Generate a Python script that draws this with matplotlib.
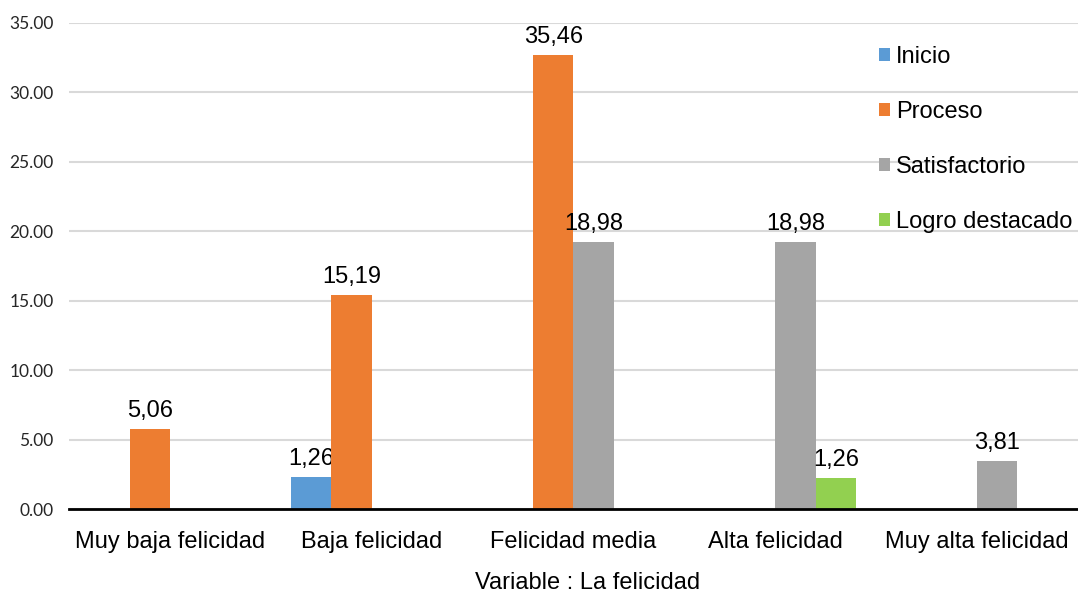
import numpy as np
import matplotlib
matplotlib.use("Agg")
import matplotlib.pyplot as plt

categories = ["Muy baja felicidad", "Baja felicidad", "Felicidad media",
              "Alta felicidad", "Muy alta felicidad"]
series = ["Inicio", "Proceso", "Satisfactorio", "Logro destacado"]

# bar heights as drawn in the picture (labels differ from heights)
inicio = [0, 2.3, 0, 0, 0]
proceso = [5.75, 15.4, 32.7, 0, 0]
satisfactorio = [0, 0, 19.2, 19.2, 3.45]
logro = [0, 0, 0, 2.25, 0]

inicio_lbl = ["", "1,26", "", "", ""]
proceso_lbl = ["5,06", "15,19", "35,46", "", ""]
satisfactorio_lbl = ["", "", "18,98", "18,98", "3,81"]
logro_lbl = ["", "", "", "1,26", ""]

colors = ["#5B9BD5", "#ED7D31", "#A5A5A5", "#92D050"]
yticks = [0, 5, 10, 15, 20, 25, 30, 35]

plt.rcParams['font.family'] = ['Liberation Sans', 'DejaVu Sans']

fig = plt.figure(figsize=(10.78, 5.97), dpi=100)
ax = fig.add_axes([0.064, 0.1474, 0.936, 0.8146])

x = np.arange(len(categories))
w = 0.2
data = [inicio, proceso, satisfactorio, logro]
labels = [inicio_lbl, proceso_lbl, satisfactorio_lbl, logro_lbl]
for i, (vals, lbls) in enumerate(zip(data, labels)):
    pos = x + (i - 1.5) * w
    bars = ax.bar(pos, vals, w, color=colors[i], label=series[i], zorder=3)
    for b, t in zip(bars, lbls):
        if t:
            ax.annotate(t, (b.get_x() + b.get_width() / 2, b.get_height()),
                        xytext=(0, 5), textcoords="offset points",
                        ha="center", va="bottom", fontsize=17)

ax.set_xlim(-0.5, len(categories) - 0.5)
ax.set_ylim(0, 35)
ax.set_yticks(yticks)
ax.set_yticklabels(["%.2f" % v for v in yticks], fontsize=12.5,
                   family=['Lato', 'DejaVu Sans'], color="#262626")
ax.set_xticks(x)
ax.set_xticklabels(categories, fontsize=17)
ax.tick_params(axis="both", length=0)
ax.tick_params(axis="x", pad=16)
ax.tick_params(axis="y", pad=11)
ax.grid(axis="y", color="#d9d9d9", linewidth=1.5, zorder=0)
for s in ["left", "right", "top"]:
    ax.spines[s].set_visible(False)
ax.spines["bottom"].set_linewidth(2)
ax.spines["bottom"].set_zorder(4)

ax.set_xlabel("Variable : La felicidad", fontsize=17)
ax.xaxis.set_label_coords(0.514, -0.152, transform=ax.transAxes)
ax.xaxis.label.set_va("center")

ax.legend(loc="upper left", bbox_to_anchor=(0.793, 0.972), frameon=False,
          fontsize=17, handlelength=0.5, handleheight=0.5, handletextpad=0.25,
          labelspacing=1.4, borderaxespad=0)

fig.savefig("out.png", dpi=100)
